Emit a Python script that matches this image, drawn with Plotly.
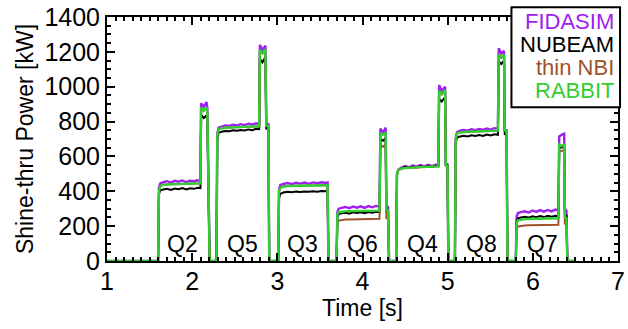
import plotly.graph_objects as go

# Shared time base [s] for every beam source, shot segment by shot segment
t_q2 = [1.600, 1.610, 1.625, 1.660, 1.705, 1.750, 1.795, 1.840, 1.885, 1.930, 1.975, 2.020, 2.065, 2.097, 2.105, 2.135, 2.168, 2.178, 2.205]
t_q5 = [2.285, 2.295, 2.310, 2.345, 2.390, 2.435, 2.480, 2.525, 2.570, 2.615, 2.660, 2.705, 2.750, 2.787, 2.795, 2.825, 2.860, 2.870, 2.895, 2.905]
t_q3 = [3.010, 3.020, 3.035, 3.070, 3.120, 3.170, 3.220, 3.270, 3.320, 3.370, 3.420, 3.470, 3.520, 3.570, 3.590, 3.600]
t_q6 = [3.695, 3.705, 3.720, 3.755, 3.800, 3.845, 3.890, 3.935, 3.980, 4.025, 4.070, 4.115, 4.160, 4.200, 4.210, 4.240, 4.272, 4.280, 4.300, 4.312]
t_q4 = [4.395, 4.405, 4.420, 4.455, 4.500, 4.545, 4.590, 4.635, 4.680, 4.725, 4.770, 4.815, 4.860, 4.890, 4.900, 4.930, 4.970, 4.978, 4.998, 5.008]
t_q8 = [5.085, 5.095, 5.110, 5.145, 5.190, 5.235, 5.280, 5.325, 5.370, 5.415, 5.460, 5.505, 5.550, 5.590, 5.600, 5.630, 5.662, 5.670, 5.692, 5.702]
t_q7 = [5.800, 5.810, 5.825, 5.860, 5.905, 5.950, 5.995, 6.040, 6.085, 6.130, 6.175, 6.220, 6.265, 6.300, 6.310, 6.340, 6.368, 6.376, 6.395, 6.405]

time = [1.0] + t_q2 + t_q5 + t_q3 + t_q6 + t_q4 + t_q8 + t_q7 + [6.5]

# Shine-through power [kW]
fidasim = ([0]
    + [0, 420, 445, 452, 458, 450, 460, 455, 462, 452, 460, 458, 463, 460, 905, 885, 912, 880, 0]
    + [0, 730, 765, 772, 778, 775, 782, 778, 785, 780, 788, 783, 790, 786, 1240, 1210, 1235, 790, 785, 0]
    + [0, 410, 435, 442, 447, 441, 449, 444, 450, 443, 451, 446, 452, 448, 450, 0]
    + [0, 280, 300, 305, 310, 303, 312, 306, 314, 305, 315, 308, 316, 312, 760, 735, 765, 315, 310, 0]
    + [0, 500, 525, 535, 545, 538, 548, 541, 550, 543, 552, 545, 553, 550, 1010, 975, 1000, 560, 555, 0]
    + [0, 705, 740, 748, 752, 748, 756, 751, 758, 752, 760, 754, 762, 758, 1220, 1190, 1205, 755, 750, 0]
    + [0, 255, 275, 280, 285, 278, 290, 282, 292, 283, 293, 285, 295, 290, 715, 725, 730, 300, 290, 0]
    + [0])

nubeam = ([0]
    + [0, 385, 405, 410, 414, 408, 416, 412, 418, 410, 417, 414, 420, 418, 840, 820, 835, 800, 0]
    + [0, 700, 735, 742, 746, 744, 750, 747, 752, 749, 755, 751, 758, 756, 1160, 1140, 1170, 760, 755, 0]
    + [0, 360, 385, 393, 397, 395, 398, 396, 399, 397, 400, 398, 401, 400, 400, 0]
    + [0, 255, 270, 274, 277, 272, 279, 275, 280, 274, 281, 277, 282, 280, 700, 690, 705, 285, 280, 0]
    + [0, 495, 520, 530, 540, 534, 542, 537, 544, 538, 546, 540, 547, 545, 930, 915, 940, 550, 548, 0]
    + [0, 680, 708, 714, 718, 714, 721, 717, 723, 718, 725, 720, 727, 724, 1145, 1130, 1150, 728, 722, 0]
    + [0, 225, 245, 250, 254, 249, 256, 251, 258, 252, 259, 254, 260, 257, 655, 650, 660, 265, 260, 0]
    + [0])

thin_nbi = ([0]
    + [0, 400, 430, 437, 440, 440, 441, 442, 443, 443, 444, 445, 446, 446, 875, 860, 880, 850, 0]
    + [0, 720, 755, 762, 765, 766, 767, 768, 769, 770, 771, 772, 773, 773, 1205, 1190, 1210, 775, 772, 0]
    + [0, 400, 420, 427, 430, 431, 432, 432, 433, 433, 434, 434, 435, 435, 435, 0]
    + [0, 215, 232, 236, 238, 238, 239, 240, 240, 241, 241, 242, 242, 242, 665, 655, 670, 245, 242, 0]
    + [0, 500, 522, 530, 534, 536, 537, 538, 539, 540, 541, 542, 543, 543, 970, 955, 975, 548, 545, 0]
    + [0, 700, 732, 738, 740, 741, 742, 743, 744, 745, 746, 747, 748, 748, 1180, 1165, 1178, 750, 748, 0]
    + [0, 180, 198, 202, 204, 205, 205, 206, 206, 207, 207, 208, 208, 208, 635, 630, 640, 215, 210, 0]
    + [0])

rabbit = ([0]
    + [0, 400, 430, 437, 440, 440, 441, 442, 443, 443, 444, 445, 446, 446, 880, 865, 882, 855, 0]
    + [0, 720, 755, 762, 765, 766, 767, 768, 769, 770, 771, 772, 773, 773, 1210, 1195, 1215, 775, 772, 0]
    + [0, 400, 420, 427, 430, 431, 432, 432, 433, 433, 434, 434, 435, 435, 435, 0]
    + [0, 265, 280, 284, 285, 286, 286, 287, 287, 288, 288, 289, 289, 289, 735, 725, 738, 292, 289, 0]
    + [0, 500, 522, 530, 534, 536, 537, 538, 539, 540, 541, 542, 543, 543, 975, 960, 980, 548, 545, 0]
    + [0, 700, 732, 738, 740, 741, 742, 743, 744, 745, 746, 747, 748, 748, 1185, 1170, 1182, 750, 748, 0]
    + [0, 215, 233, 238, 240, 241, 242, 242, 243, 243, 244, 244, 245, 245, 668, 660, 670, 250, 245, 0]
    + [0])

# Beam source labels and their positions (time [s], power [kW])
source_names = ["Q2", "Q5", "Q3", "Q6", "Q4", "Q8", "Q7"]
source_t = [1.89, 2.595, 3.30, 4.00, 4.70, 5.40, 6.11]
source_p = [100, 100, 100, 100, 100, 100, 100]

models = ["FIDASIM", "NUBEAM", "thin NBI", "RABBIT"]
colors = ["#a020f0", "#000000", "#a0522d", "#32cd32"]
widths = [2.4, 2.0, 2.0, 2.4]
series = [fidasim, nubeam, thin_nbi, rabbit]

FONT = "Liberation Sans, Arial, sans-serif"
TXT = 23

fig = go.Figure()
for name, ys, c, w in zip(models, series, colors, widths):
    fig.add_trace(go.Scatter(x=time, y=ys, mode="lines", name=name,
                             line=dict(color=c, width=w), showlegend=False))

for lab, tx, py in zip(source_names, source_t, source_p):
    fig.add_annotation(x=tx, y=py, text=lab, showarrow=False,
                       font=dict(size=TXT, color="black", family=FONT),
                       xanchor="center", yanchor="middle")

# Legend box with coloured, right-aligned names
fig.add_shape(type="rect", xref="paper", yref="paper",
              x0=0.7915, x1=1.004, y0=0.6305, y1=1.040,
              line=dict(color="black", width=2), fillcolor="white", layer="above")
legend_y = [0.981, 0.888, 0.792, 0.698]
for name, c, ly in zip(models, colors, legend_y):
    fig.add_annotation(xref="paper", yref="paper", x=0.995, y=ly, text=name,
                       showarrow=False, xanchor="right", yanchor="middle", borderpad=0,
                       font=dict(size=22, color=c, family=FONT))

axis_common = dict(showline=True, linecolor="black", linewidth=2, mirror="allticks",
                   ticks="inside", tickcolor="black", tickwidth=1.5, ticklen=8,
                   showgrid=False, zeroline=False, ticklabeloverflow="allow",
                   tickfont=dict(size=25, color="black", family=FONT))

fig.update_xaxes(range=[1, 7], dtick=1, tick0=1, ticklabelstandoff=-3,
                 minor=dict(dtick=0.1, ticks="inside", ticklen=4, tickcolor="black", tickwidth=1.5),
                 title=dict(text="Time [s]", font=dict(size=TXT, color="black", family=FONT), standoff=2),
                 **axis_common)
fig.update_yaxes(range=[0, 1400], dtick=200,
                 minor=dict(dtick=50, ticks="inside", ticklen=4, tickcolor="black", tickwidth=1.5),
                 title=dict(text="Shine-thru Power [kW]", font=dict(size=TXT, color="black", family=FONT), standoff=4),
                 **axis_common)

fig.update_layout(width=628, height=329, margin=dict(l=107, r=3, t=12, b=68),
                  plot_bgcolor="white", paper_bgcolor="white",
                  font=dict(family=FONT, size=TXT, color="black"))

fig.write_html("out.html")
